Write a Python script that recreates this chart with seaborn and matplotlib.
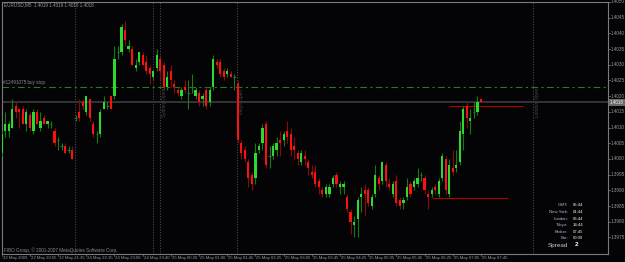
import matplotlib
matplotlib.use("Agg")
import matplotlib.pyplot as plt
import seaborn as sns
import numpy as np
import pandas as pd

# ---------------- data (EURUSD M5) ----------------
open_p = [1.4002,1.4009,1.4009,1.4010,1.4017,1.4016,1.4016,1.4011,1.4014,1.4009,
          1.4015,1.4010,1.4013,1.4011,1.4011,1.4009,1.4006,1.4004,1.4004,1.4003,
          1.4003,1.4013,1.4015,1.4018,1.4015,1.4019,1.4011,1.4008,1.4008,1.4016,
          1.4017,1.4020,1.4020,1.4034,1.4034,1.4041,1.4035,1.4035,1.4029,1.4031,
          1.4033,1.4031,1.4029,1.4026,1.4029,1.4032,1.4030,1.4023,1.4028,1.4024,
          1.4022,1.4020,1.4023,1.4021,1.4023,1.4020,1.4021,1.4019,1.4022,1.4018,
          1.4023,1.4031,1.4031,1.4028,1.4027,1.4027,1.4026,1.4024,1.4005,1.4003,
          1.3999,1.3995,1.3994,1.4003,1.4005,1.4011,1.4001,1.4001,1.4003,1.4006,
          1.4006,1.4009,1.4008,1.4004,1.4002,1.3999,1.4001,1.3999,1.3996,1.3996,
          1.3993,1.3990,1.3989,1.3989,1.3992,1.3995,1.3991,1.3991,1.3988,1.3983,
          1.3979,1.3981,1.3988,1.3990,1.3990,1.3985,1.3989,1.3994,1.3993,1.3998,
          1.3992,1.3989,1.3993,1.3987,1.3986,1.3988,1.3992,1.3991,1.3992,1.3995,
          1.3994,1.3989,1.3989,1.3991,1.3989,1.3994,1.4000,1.3989,1.3997,1.3997,
          1.3999,1.4008,1.4017,1.4012,1.4015,1.4015,1.4019]
high_p = [1.4009,1.4015,1.4012,1.4019,1.4018,1.4016,1.4017,1.4016,1.4015,1.4016,
          1.4016,1.4015,1.4014,1.4012,1.4012,1.4010,1.4007,1.4005,1.4005,1.4004,
          1.4004,1.4014,1.4019,1.4019,1.4020,1.4019,1.4012,1.4009,1.4016,1.4020,
          1.4018,1.4020,1.4036,1.4036,1.4043,1.4044,1.4038,1.4036,1.4032,1.4034,
          1.4034,1.4033,1.4030,1.4028,1.4035,1.4033,1.4031,1.4028,1.4030,1.4025,
          1.4023,1.4023,1.4025,1.4025,1.4027,1.4023,1.4022,1.4021,1.4023,1.4023,
          1.4033,1.4032,1.4032,1.4029,1.4029,1.4028,1.4027,1.4025,1.4006,1.4004,
          1.4000,1.3996,1.4005,1.4005,1.4011,1.4012,1.4004,1.4005,1.4007,1.4009,
          1.4009,1.4012,1.4010,1.4007,1.4003,1.4003,1.4003,1.4000,1.3998,1.3998,
          1.3994,1.3991,1.3992,1.3992,1.3995,1.3996,1.3993,1.3993,1.3989,1.3984,
          1.3982,1.3988,1.3991,1.3992,1.3991,1.3989,1.3998,1.3995,1.3999,1.3999,
          1.3994,1.3993,1.3995,1.3988,1.3988,1.3994,1.3993,1.3994,1.3997,1.3996,
          1.3995,1.3990,1.3991,1.3992,1.3994,1.4002,1.4001,1.4000,1.4003,1.4003,
          1.4012,1.4017,1.4018,1.4016,1.4018,1.4020,1.4019]
low_p = [1.4001,1.4007,1.4007,1.4010,1.4013,1.4010,1.4011,1.4009,1.4009,1.4008,
         1.4011,1.4009,1.4011,1.4010,1.4010,1.4004,1.4003,1.4003,1.4002,1.4002,
         1.4000,1.4012,1.4012,1.4016,1.4014,1.4012,1.4007,1.4005,1.4007,1.4016,
         1.4016,1.4016,1.4019,1.4032,1.4033,1.4036,1.4034,1.4030,1.4028,1.4030,
         1.4030,1.4027,1.4024,1.4025,1.4028,1.4025,1.4022,1.4022,1.4023,1.4021,
         1.4020,1.4019,1.4021,1.4016,1.4021,1.4019,1.4017,1.4017,1.4016,1.4017,
         1.4022,1.4029,1.4026,1.4025,1.4026,1.4026,1.4022,1.4005,1.4000,1.3999,
         1.3991,1.3990,1.3992,1.4002,1.4003,1.3997,1.3997,1.4000,1.4001,1.4001,
         1.4004,1.4005,1.4001,1.4000,1.3998,1.3998,1.3998,1.3995,1.3994,1.3991,
         1.3989,1.3988,1.3988,1.3988,1.3991,1.3991,1.3989,1.3989,1.3983,1.3976,
         1.3975,1.3975,1.3983,1.3982,1.3985,1.3984,1.3988,1.3990,1.3992,1.3991,
         1.3990,1.3988,1.3985,1.3984,1.3984,1.3987,1.3988,1.3990,1.3991,1.3993,
         1.3989,1.3984,1.3988,1.3989,1.3988,1.3993,1.3989,1.3988,1.3995,1.3996,
         1.3998,1.4003,1.4010,1.4008,1.4013,1.4014,1.4018]
close_p = [1.4008,1.4011,1.4011,1.4016,1.4015,1.4015,1.4011,1.4015,1.4010,1.4015,
           1.4011,1.4012,1.4011,1.4012,1.4011,1.4005,1.4006,1.4004,1.4002,1.4003,
           1.4000,1.4013,1.4013,1.4017,1.4020,1.4013,1.4008,1.4008,1.4015,1.4018,
           1.4017,1.4016,1.4032,1.4034,1.4042,1.4038,1.4036,1.4030,1.4030,1.4034,
           1.4030,1.4028,1.4027,1.4028,1.4033,1.4028,1.4023,1.4026,1.4025,1.4023,
           1.4021,1.4022,1.4022,1.4021,1.4023,1.4022,1.4018,1.4020,1.4017,1.4022,
           1.4032,1.4030,1.4027,1.4026,1.4028,1.4026,1.4026,1.4006,1.4002,1.4000,
           1.3994,1.3992,1.4002,1.4004,1.4010,1.3998,1.4001,1.4004,1.4005,1.4005,
           1.4008,1.4007,1.4003,1.4003,1.4000,1.4002,1.4000,1.3997,1.3995,1.3992,
           1.3991,1.3989,1.3991,1.3991,1.3994,1.3992,1.3992,1.3992,1.3984,1.3980,
           1.3980,1.3987,1.3989,1.3989,1.3986,1.3988,1.3995,1.3992,1.3999,1.3993,
           1.3991,1.3992,1.3986,1.3985,1.3987,1.3991,1.3989,1.3993,1.3994,1.3995,
           1.3990,1.3988,1.3990,1.3990,1.3993,1.4001,1.3990,1.3998,1.3996,1.3998,
           1.4009,1.4016,1.4013,1.4013,1.4015,1.4018,1.4018]

time_labels = ["22 May 2009", "22 May 20:55", "22 May 21:35", "24 May 22:15",
               "24 May 23:00", "24 May 23:40", "25 May 00:20", "25 May 01:00",
               "25 May 01:45", "25 May 02:25", "25 May 03:05", "25 May 03:45",
               "25 May 04:25", "25 May 05:05", "25 May 05:45", "25 May 06:25",
               "25 May 07:05", "25 May 07:45"]
label_step = 8

price_ticks = [1.4050, 1.4045, 1.4040, 1.4035, 1.4030, 1.4025, 1.4020, 1.4015,
               1.4010, 1.4005, 1.4000, 1.3995, 1.3990, 1.3985, 1.3980, 1.3975]
bid_price = 1.4018
order_price = 1.4023
order_label = "#12491075 buy stop"
hline_prices = [1.4017, 1.39876]
hline_spans = [(126.9, 147.9), (122.1, 143.7)]
separator_bars = [20.8, 42.9, 44.9, 66.8, 150.8]
session_bars = [44.9, 66.8, 150.8]
session_names = ["Sydney Open", "Tokyo Open", "London Open"]

info_labels = ["GMT:", "New York:", "London:", "Tokyo:", "Broker:", "Bar:"]
info_values = ["05:44", "01:44", "06:44", "14:44", "07:45", "00:00"]
spread_value = "2"
header = "EURUSD,M5  1.4019 1.4019 1.4018 1.4018"
footer = "FIBO Group, \u00a9 2001-2007 MetaQuotes Software Corp."

df = pd.DataFrame({"open": open_p, "high": high_p, "low": low_p, "close": close_p})
df["bar"] = np.arange(len(df))

# ---------------- style ----------------
sns.set_theme(style="dark")
BG = "#040406"
plt.rcParams["font.family"] = ["Liberation Sans", "DejaVu Sans"]

W, H = 625, 262
fig = plt.figure(figsize=(W / 100, H / 100), dpi=100, facecolor=BG)
L, R, T, B = 2, 608, 2, 254
ax = fig.add_axes([L / W, 1 - B / H, (R - L) / W, (B - T) / H])
ax.set_facecolor(BG)
ax.grid(False)

x0, dx = 1.7, 3.524          # px position of bar 0 and bar spacing
ax.set_xlim((L - x0) / dx, (R - x0) / dx)
ax.set_ylim(1.4 + (159 - B) / 31400, 1.4 + (159 - T) / 31400)

def fx(px):
    return px / W
def fy(py):
    return 1 - py / H

BULL, BEAR = "#2fd82f", "#ff1010"
BULL_W, BEAR_W, DOJI = "#147a14", "#8a0a0a", "#1f7a1f"

# separators
for b in separator_bars:
    ax.axvline(b, color="#626262", lw=0.6, ls=(0, (1.2, 2.0)), zorder=1)

# bid line and order line
ax.axhline(bid_price, color="#38383c", lw=1.3, zorder=1)
ax.axhline(order_price, color="#1e801e", lw=0.8, ls=(0, (6, 3, 2, 3)), zorder=1)
for p, (a, b) in zip(hline_prices, hline_spans):
    ax.hlines(p, a, b, color="#b00000", lw=0.8, zorder=2)

# candles
up = df[df.close > df.open]
dn = df[df.close < df.open]
dj = df[df.close == df.open]
ax.vlines(up.bar, up.low, up.high, color=BULL_W, lw=0.8, zorder=3)
ax.vlines(dn.bar, dn.low, dn.high, color=BEAR_W, lw=0.8, zorder=3)
ax.vlines(dj.bar, dj.low, dj.high, color=DOJI, lw=0.8, zorder=3)
ax.bar(up.bar, up.close - up.open, bottom=up.open, width=0.62, color=BULL,
       linewidth=0, zorder=4)
ax.bar(dn.bar, dn.open - dn.close, bottom=dn.close, width=0.62, color=BEAR,
       linewidth=0, zorder=4)
ax.hlines(dj.open, dj.bar - 0.35, dj.bar + 0.35, color=DOJI, lw=0.8, zorder=4)

# frame
for s in ax.spines.values():
    s.set_color("#7a7a7a")
    s.set_linewidth(0.8)
ax.set_xticks([])
ax.set_yticks([])

# price axis labels
for p in price_ticks:
    ypx = 159 - (p - 1.4) * 31400
    fig.text(fx(611), fy(ypx), f"{p:.4f}", fontsize=3.3, color="#9a9a9a",
             va="center", ha="left")
    fig.lines.append(plt.Line2D([fx(608), fx(610)], [fy(ypx), fy(ypx)],
                                color="#7a7a7a", lw=0.6, transform=fig.transFigure))
ybid = 159 - (bid_price - 1.4) * 31400
fig.text(fx(610), fy(ybid), f"{bid_price:.4f}", fontsize=3.3, color="#f0f0f0",
         va="center", ha="left",
         bbox=dict(boxstyle="square,pad=0.25", fc="#6a6a6a", ec="none"))

# time labels
for k, lab in enumerate(time_labels):
    xpx = x0 + dx * k * label_step
    fig.text(fx(xpx + 1), fy(258), lab, fontsize=3.1, color="#9a9a9a",
             va="center", ha="left")
    fig.lines.append(plt.Line2D([fx(xpx), fx(xpx)], [fy(254), fy(256)],
                                color="#7a7a7a", lw=0.5, transform=fig.transFigure))

# texts
fig.text(fx(4), fy(5), header, fontsize=3.3, color="#9a9a9a", va="center", ha="left")
fig.text(fx(4), fy(250), footer, fontsize=3.3, color="#8a8a8a", va="center", ha="left")
ax.text(0.5, order_price + 0.00007, order_label, fontsize=3.3, color="#8a8a8a",
        va="bottom", ha="left")
for b, name in zip(session_bars, session_names):
    ax.text(b + 0.6, 1.40180, name, rotation=90, fontsize=3.4, color="#4a4a4a",
            va="center", ha="left")

rows_y = [205, 212, 219, 225, 232, 238]
for lab, val, ypx in zip(info_labels, info_values, rows_y):
    fig.text(fx(568), fy(ypx), lab, fontsize=3.1, color="#b8b8c8", va="center", ha="right")
    fig.text(fx(573), fy(ypx), val, fontsize=3.1, color="#f0f0e0", va="center", ha="left")
fig.text(fx(568), fy(245), "Spread", fontsize=4.6, color="#c8c8c8", va="center", ha="right")
fig.text(fx(575), fy(245), spread_value, fontsize=4.6, color="#ffffff", va="center",
         ha="left", fontweight="bold")

fig.savefig("out.png", dpi=100, facecolor=BG)
